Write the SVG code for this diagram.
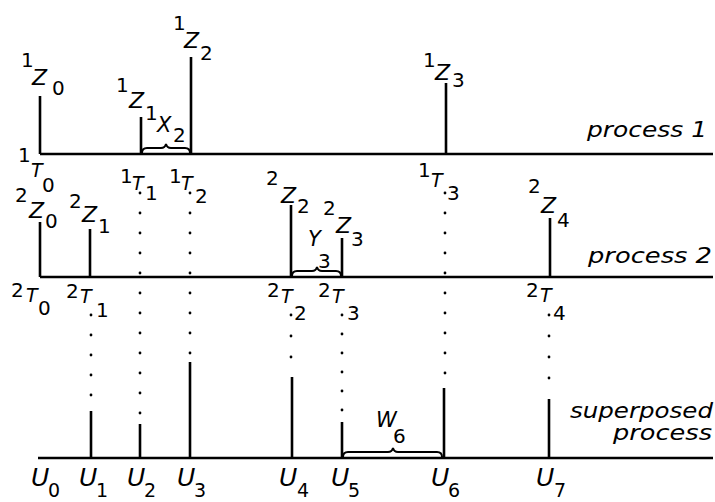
<svg xmlns="http://www.w3.org/2000/svg" width="715" height="502" viewBox="0 0 715 502">
<style>
.axis{stroke:#000;stroke-width:2.6;fill:none}
.spike{stroke:#000;stroke-width:2.6;fill:none}
.dots{stroke:#000;stroke-width:2.8;stroke-linecap:round;stroke-dasharray:0 20;fill:none}
.brace{stroke:#000;stroke-width:2;fill:none}
text{font-family:"DejaVu Sans","Liberation Sans",sans-serif;fill:#000}
.L{font-style:italic;font-size:22px}
.T{font-style:italic;font-size:19px}
.U{font-style:italic;font-size:25px}
.d{font-size:20px}
.du{font-size:19px}
.lab{font-style:italic;font-size:21px}
</style>
<rect width="715" height="502" fill="#fff"/>

<g id="connectors">
<line class="dots" x1="91" y1="315" x2="91" y2="396"/>
<line class="dots" x1="140" y1="193" x2="140" y2="414"/>
<line class="dots" x1="190" y1="193" x2="190" y2="354"/>
<line class="dots" x1="291" y1="315" x2="291" y2="358" style="stroke-dasharray:0 21"/>
<line class="dots" x1="342" y1="315" x2="342" y2="411" style="stroke-dasharray:0 19"/>
<line class="dots" x1="445" y1="193" x2="445" y2="374"/>
<line class="dots" x1="549" y1="315" x2="549" y2="379" style="stroke-dasharray:0 21"/>
</g>

<g id="process1">
<line class="axis" x1="40" y1="154" x2="713" y2="154"/>
<line class="spike" x1="40" y1="96" x2="40" y2="154"/>
<line class="spike" x1="141" y1="117" x2="141" y2="154"/>
<line class="spike" x1="191" y1="57" x2="191" y2="154"/>
<line class="spike" x1="446" y1="83" x2="446" y2="154"/>
<path class="brace" d="M142,153 q0,-5 5,-5 L161,148 q4,0 5,-4 q1,4 5,4 L185,148 q5,0 5,5"/>
<text class="d" x="21" y="67">1</text><text class="L" x="32" y="85">Z</text><text class="d" x="52" y="95">0</text>
<text class="d" x="116" y="92">1</text><text class="L" x="129" y="108">Z</text><text class="d" x="145" y="120">1</text>
<text class="d" x="173" y="30">1</text><text class="L" x="184" y="48">Z</text><text class="d" x="200" y="60">2</text>
<text class="d" x="423" y="67">1</text><text class="L" x="435" y="80">Z</text><text class="d" x="452" y="87">3</text>
<text class="lab" x="157" y="132">X</text><text class="d" x="173" y="142">2</text>
<text class="d" x="18" y="162">1</text><text class="T" x="31" y="177">T</text><text class="d" x="42" y="192">0</text>
<text class="d" x="120" y="183">1</text><text class="T" x="132" y="190">T</text><text class="d" x="145" y="200">1</text>
<text class="d" x="169" y="183">1</text><text class="T" x="181" y="190">T</text><text class="d" x="195" y="203">2</text>
<text class="d" x="418" y="177">1</text><text class="T" x="431" y="187">T</text><text class="d" x="447" y="200">3</text>
<text class="lab" x="587" y="137" textLength="120" lengthAdjust="spacingAndGlyphs">process 1</text>
</g>

<g id="process2">
<line class="axis" x1="40" y1="277" x2="713" y2="277"/>
<line class="spike" x1="40" y1="222" x2="40" y2="277"/>
<line class="spike" x1="90" y1="229" x2="90" y2="277"/>
<line class="spike" x1="291" y1="205" x2="291" y2="277"/>
<line class="spike" x1="342" y1="238" x2="342" y2="277"/>
<line class="spike" x1="550" y1="218" x2="550" y2="277"/>
<path class="brace" d="M292,276 q0,-5 5,-5 L312,271 q4,0 5,-4 q1,4 5,4 L336,271 q5,0 5,5"/>
<text class="d" x="15" y="202">2</text><text class="L" x="29" y="218">Z</text><text class="d" x="45" y="228">0</text>
<text class="d" x="69" y="208">2</text><text class="L" x="82" y="222">Z</text><text class="d" x="98" y="233">1</text>
<text class="d" x="266" y="185">2</text><text class="L" x="281" y="203">Z</text><text class="d" x="297" y="213">2</text>
<text class="d" x="323" y="215">2</text><text class="L" x="336" y="233">Z</text><text class="d" x="351" y="246">3</text>
<text class="d" x="528" y="193">2</text><text class="L" x="541" y="213">Z</text><text class="d" x="557" y="227">4</text>
<text class="lab" x="308" y="246">Y</text><text class="d" x="318" y="268">3</text>
<text class="d" x="11" y="297">2</text><text class="T" x="26" y="302">T</text><text class="d" x="38" y="315">0</text>
<text class="d" x="66" y="298">2</text><text class="T" x="80" y="303">T</text><text class="d" x="96" y="317">1</text>
<text class="d" x="267" y="297">2</text><text class="T" x="281" y="303">T</text><text class="d" x="294" y="320">2</text>
<text class="d" x="318" y="297">2</text><text class="T" x="332" y="303">T</text><text class="d" x="347" y="320">3</text>
<text class="d" x="526" y="297">2</text><text class="T" x="540" y="302">T</text><text class="d" x="553" y="320">4</text>
<text class="lab" x="588" y="263" textLength="124" lengthAdjust="spacingAndGlyphs">process 2</text>
</g>

<g id="superposed">
<line class="axis" x1="38" y1="458" x2="713" y2="458"/>
<line class="spike" x1="91" y1="411" x2="91" y2="458"/>
<line class="spike" x1="140" y1="424" x2="140" y2="458"/>
<line class="spike" x1="190" y1="362" x2="190" y2="458"/>
<line class="spike" x1="292" y1="377" x2="292" y2="458"/>
<line class="spike" x1="342" y1="422" x2="342" y2="458"/>
<line class="spike" x1="444" y1="388" x2="444" y2="458"/>
<line class="spike" x1="549" y1="399" x2="549" y2="458"/>
<path class="brace" d="M343,457 q0,-5 5,-5 L388,452 q4,0 5,-4 q1,4 5,4 L437,452 q5,0 5,5"/>
<text class="lab" x="376" y="427">W</text><text class="d" x="393" y="443">6</text>
<text class="U" x="31" y="486">U</text><text class="du" x="48" y="497">0</text>
<text class="U" x="79" y="486">U</text><text class="du" x="96" y="497">1</text>
<text class="U" x="127" y="486">U</text><text class="du" x="144" y="497">2</text>
<text class="U" x="177" y="486">U</text><text class="du" x="194" y="497">3</text>
<text class="U" x="279" y="486">U</text><text class="du" x="297" y="497">4</text>
<text class="U" x="331" y="486">U</text><text class="du" x="348" y="497">5</text>
<text class="U" x="431" y="486">U</text><text class="du" x="448" y="497">6</text>
<text class="U" x="536" y="486">U</text><text class="du" x="554" y="497">7</text>
<text class="lab" x="570" y="418" textLength="143" lengthAdjust="spacingAndGlyphs">superposed</text>
<text class="lab" x="613" y="440" textLength="99" lengthAdjust="spacingAndGlyphs">process</text>
</g>
</svg>
